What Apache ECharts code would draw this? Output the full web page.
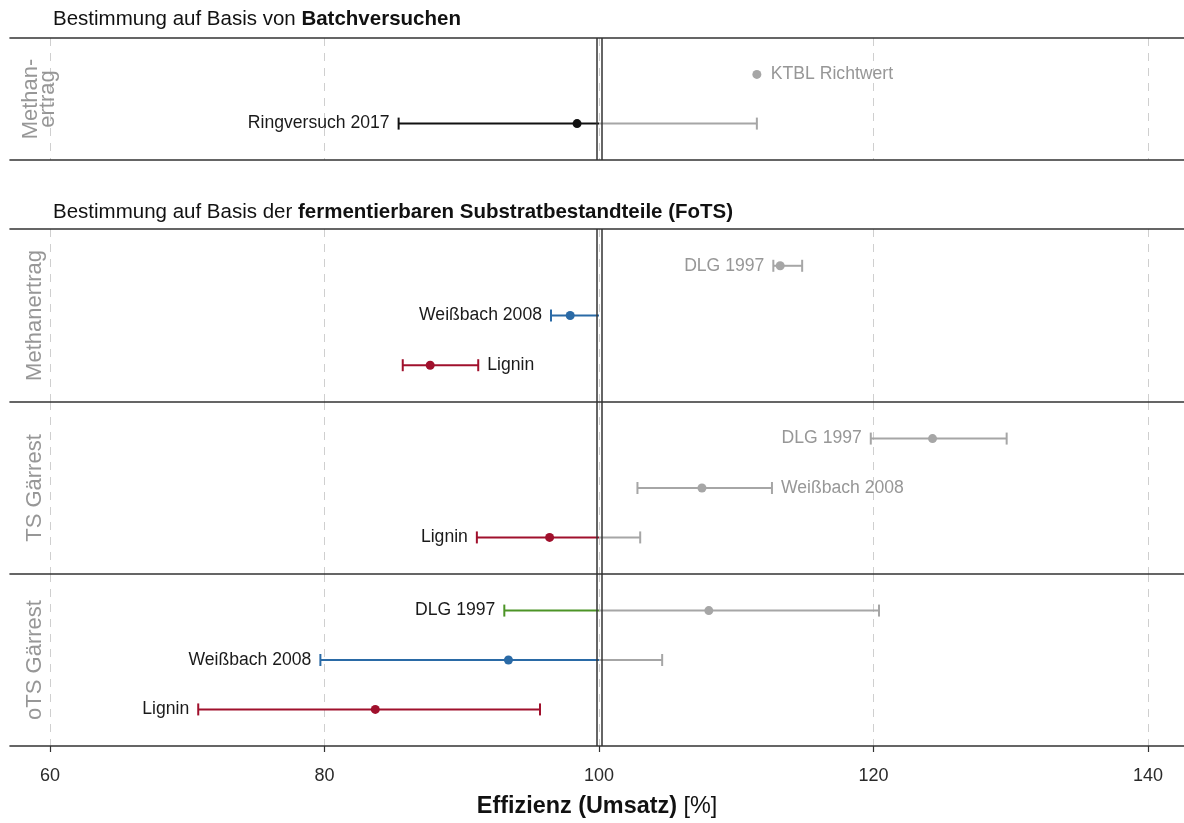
<!DOCTYPE html>
<html>
<head>
<meta charset="utf-8">
<title>Effizienz (Umsatz)</title>
<script src="https://cdn.jsdelivr.net/npm/echarts@6/dist/echarts.min.js"></script>
<style>
  html, body { margin: 0; padding: 0; background: #ffffff; }
  #chart { width: 1184px; height: 823px; }
</style>
</head>
<body>
<div id="chart"></div>
<script>
// Panel (facet) names, one per block of rows
const panelNames = ['Methan-\nertrag', 'Methanertrag', 'TS Gärrest', 'oTS Gärrest'];
const panelRowCount = [2, 3, 3, 3];

// One entry per row: panel, position within panel, label, method
const rowPanel  = [0, 0, 1, 1, 1, 2, 2, 2, 3, 3, 3];
const rowPos    = [1, 2, 1, 2, 3, 1, 2, 3, 1, 2, 3];
const rowLabel  = ['KTBL Richtwert', 'Ringversuch 2017',
                   'DLG 1997', 'Weißbach 2008', 'Lignin',
                   'DLG 1997', 'Weißbach 2008', 'Lignin',
                   'DLG 1997', 'Weißbach 2008', 'Lignin'];
const rowMethod = ['ktbl', 'ring', 'dlg', 'weiss', 'lignin',
                   'dlg', 'weiss', 'lignin', 'dlg', 'weiss', 'lignin'];
const labelSide = ['right', 'left', 'left', 'left', 'right',
                   'left', 'right', 'left', 'left', 'left', 'left'];

// Efficiency (%): mean and range
const effMean = [111.5, 98.4, 113.2, 97.9, 87.7, 124.3, 107.5, 96.4, 108.0, 93.4, 83.7];
const effLow  = [null, 85.4, 112.7, 96.5, 85.7, 119.8, 102.8, 91.1, 93.1, 79.7, 70.8];
const effHigh = [null, 111.5, 114.8, 100.0, 91.2, 129.7, 112.6, 103.0, 120.4, 104.6, 95.7];

// x axis ticks
const xTicks = [60, 80, 100, 120, 140];
const xMin = 57.086, xMax = 142.62;
const reference = 100;

const methodColor = {
  ktbl: '#a6a6a6', ring: '#111111', dlg: '#4c9426', weiss: '#2a6aa6', lignin: '#a0102c'
};
const GREY = '#a6a6a6';
const TEXT_DARK = '#1a1a1a';
const TEXT_GREY = '#979797';
const FRAME = '#333333';
const FONT = 'Liberation Sans, Arial, sans-serif';

const gridBoxes = [
  { top: 38,  height: 122 },
  { top: 229, height: 173 },
  { top: 402, height: 172 },
  { top: 574, height: 172 }
];
const stripGap = [-46, -33, -33, -33];

const chart = echarts.init(document.getElementById('chart'), null, { renderer: 'canvas' });

const grids = gridBoxes.map(b => ({
  left: 10, right: 0, top: b.top, height: b.height,
  containLabel: false, outerBoundsMode: 'none'
}));

const xAxes = [];
const yAxes = [];
panelNames.forEach((name, p) => {
  const last = p === panelNames.length - 1;
  xAxes.push({
    type: 'value', gridIndex: p, min: xMin, max: xMax, position: 'bottom',
    axisLine: { show: true, onZero: false, lineStyle: { color: FRAME, width: 1.6 } },
    axisTick: { show: last, customValues: xTicks, length: 6, lineStyle: { color: FRAME, width: 1.2 } },
    axisLabel: { show: last, customValues: xTicks, margin: 21, fontSize: 18, color: '#2a2a2a',
                 fontFamily: FONT },
    splitLine: { show: true, lineStyle: { color: '#cfcfcf', type: [8, 7], width: 1 } },
    name: last ? '{b|Effizienz (Umsatz)} [%]' : '',
    nameLocation: 'middle', nameGap: 49,
    nameTextStyle: {
      fontSize: 23.4, color: '#111', fontFamily: FONT,
      rich: { b: { fontSize: 23.4, fontWeight: 'bold', color: '#111', fontFamily: FONT } }
    }
  });
  yAxes.push({
    type: 'value', gridIndex: p, inverse: true,
    min: 0.26, max: panelRowCount[p] + 0.74,
    axisLine: { show: false }, axisTick: { show: false }, axisLabel: { show: false },
    splitLine: { show: false },
    name: name, nameLocation: 'middle', nameRotate: 90, nameGap: stripGap[p],
    nameTextStyle: { fontSize: 22, color: TEXT_GREY, lineHeight: 17, fontFamily: FONT }
  });
});
// top frame lines for the first panel of each block
[0, 1].forEach(p => {
  xAxes.push({
    type: 'value', gridIndex: p, min: xMin, max: xMax, position: 'top',
    axisLine: { show: true, onZero: false, lineStyle: { color: FRAME, width: 1.6 } },
    axisTick: { show: false }, axisLabel: { show: false }, splitLine: { show: false }
  });
});

function rowsOf(p) {
  const out = [];
  for (let i = 0; i < rowPanel.length; i++) if (rowPanel[i] === p) out.push(i);
  return out;
}

const series = [];
panelNames.forEach((name, p) => {
  const rows = rowsOf(p);
  // error bars + labels
  series.push({
    type: 'custom', xAxisIndex: p, yAxisIndex: p, z: 2, silent: true,
    data: rows.map(i => [effLow[i] == null ? effMean[i] : effLow[i], rowPos[i],
                         effHigh[i] == null ? effMean[i] : effHigh[i], effMean[i], i]),
    renderItem: function (params, api) {
      const i = api.value(4);
      const lo = api.value(0), hi = api.value(2), mean = api.value(3), pos = api.value(1);
      const col = methodColor[rowMethod[i]];
      const children = [];
      const y = api.coord([lo, pos])[1];
      const capH = 6;
      const hasBar = effLow[i] != null;
      if (hasBar) {
        if (lo < reference) {
          const a = api.coord([lo, pos]), b = api.coord([Math.min(hi, reference), pos]);
          children.push({ type: 'line', shape: { x1: a[0], y1: y, x2: b[0], y2: y },
                          style: { stroke: col, lineWidth: 2 } });
          children.push({ type: 'line', shape: { x1: a[0], y1: y - capH, x2: a[0], y2: y + capH },
                          style: { stroke: col, lineWidth: 2 } });
        }
        if (hi > reference) {
          const a = api.coord([Math.max(lo, reference), pos]), b = api.coord([hi, pos]);
          children.push({ type: 'line', shape: { x1: a[0], y1: y, x2: b[0], y2: y },
                          style: { stroke: GREY, lineWidth: 2 } });
          children.push({ type: 'line', shape: { x1: b[0], y1: y - capH, x2: b[0], y2: y + capH },
                          style: { stroke: GREY, lineWidth: 2 } });
          if (lo >= reference) {
            const c = api.coord([lo, pos]);
            children.push({ type: 'line', shape: { x1: c[0], y1: y - capH, x2: c[0], y2: y + capH },
                            style: { stroke: GREY, lineWidth: 2 } });
          }
        } else if (hi < reference) {
          const b = api.coord([hi, pos]);
          children.push({ type: 'line', shape: { x1: b[0], y1: y - capH, x2: b[0], y2: y + capH },
                          style: { stroke: col, lineWidth: 2 } });
        }
      }
      // label next to the range end (or next to the point)
      const start = effLow[i] == null ? mean : lo;
      const textCol = start > reference ? TEXT_GREY : TEXT_DARK;
      let tx, align;
      if (labelSide[i] === 'left') {
        tx = api.coord([lo, pos])[0] - (hasBar ? 9 : 14); align = 'right';
      } else {
        tx = api.coord([hi, pos])[0] + (hasBar ? 9 : 14); align = 'left';
      }
      children.push({ type: 'text', x: tx, y: y,
        style: { text: rowLabel[i], fill: textCol, fontSize: 17.6, fontFamily: FONT,
                 align: align, verticalAlign: 'middle' } });
      return { type: 'group', children: children };
    }
  });
  // mean points + reference double line
  series.push({
    type: 'scatter', xAxisIndex: p, yAxisIndex: p, z: 3, silent: true,
    symbol: 'circle', symbolSize: 9,
    data: rows.map(i => ({ value: [effMean[i], rowPos[i]],
      itemStyle: { opacity: 1, color: effMean[i] > reference ? GREY : methodColor[rowMethod[i]] } })),
    markLine: {
      silent: true, symbol: 'none', label: { show: false },
      lineStyle: { color: FRAME, type: 'solid', width: 1.5 },
      data: [{ xAxis: reference - 0.18 }, { xAxis: reference + 0.18 }]
    }
  });
});

const titleStyle = {
  fontSize: 20.5, fontWeight: 'normal', color: '#111', fontFamily: FONT,
  rich: { b: { fontSize: 20.5, fontWeight: 'bold', color: '#111', fontFamily: FONT } }
};

chart.setOption({
  backgroundColor: '#ffffff',
  animation: false,
  title: [
    { text: 'Bestimmung auf Basis von {b|Batchversuchen}', left: 53, top: 9, padding: 0,
      textStyle: titleStyle },
    { text: 'Bestimmung auf Basis der {b|fermentierbaren Substratbestandteile (FoTS)}',
      left: 53, top: 202, padding: 0, textStyle: titleStyle }
  ],
  grid: grids,
  xAxis: xAxes,
  yAxis: yAxes,
  series: series
});
</script>
</body>
</html>
